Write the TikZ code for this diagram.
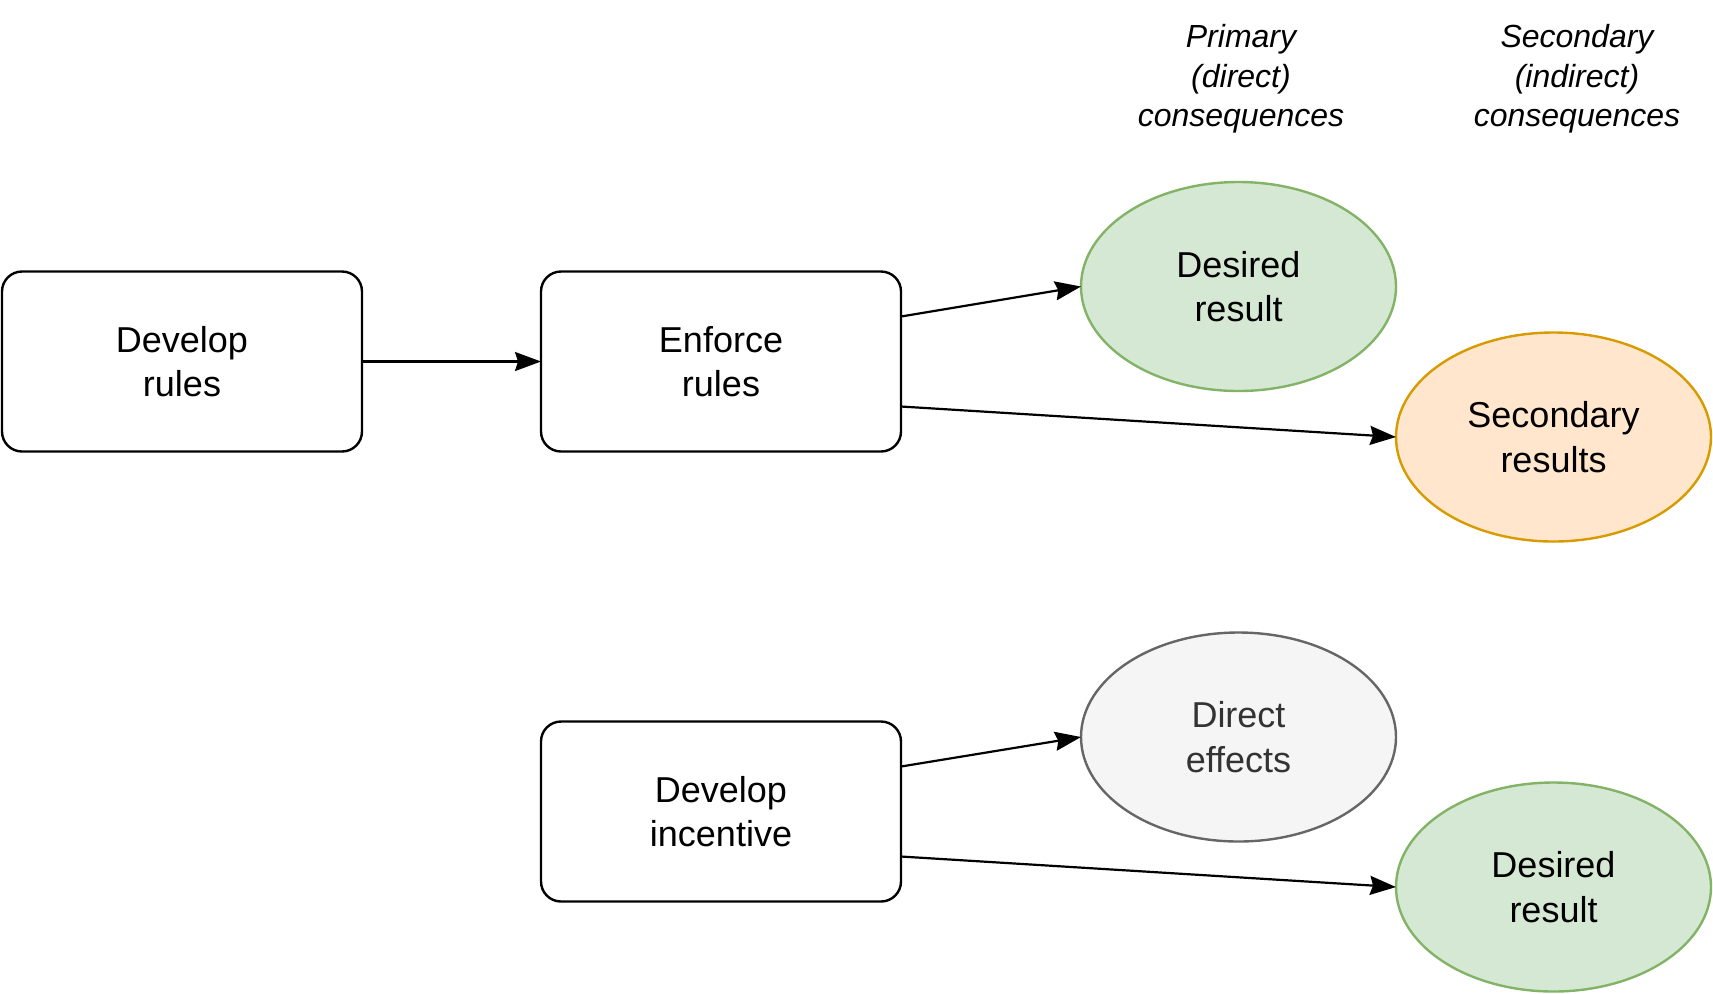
\documentclass[tikz,border=0pt]{standalone}
\usepackage{fontspec}
\setmainfont{Liberation Sans}
\usepackage{tikz}
\usetikzlibrary{shapes.geometric, arrows.meta, calc, positioning}
\definecolor{goodfill}{HTML}{D5E8D4}
\definecolor{goodline}{HTML}{82B366}
\definecolor{sidefill}{HTML}{FFE6CC}
\definecolor{sideline}{HTML}{D79B00}
\definecolor{greyfill}{HTML}{F5F5F5}
\definecolor{greyline}{HTML}{666666}
\definecolor{greytext}{HTML}{333333}
\tikzstyle{block} = [rectangle, rounded corners=10pt, line width=1.2pt, draw=black, minimum width=180pt, minimum height=90pt, outer sep=0pt, align=center, font=\fontsize{18}{22.2}\selectfont]
\tikzstyle{result} = [ellipse, line width=1.2pt, minimum width=157.5pt, minimum height=104.5pt, inner sep=0pt, outer sep=0pt, align=center, font=\fontsize{18}{22.2}\selectfont]
\tikzstyle{goodres} = [result, draw=goodline, fill=goodfill]
\tikzstyle{sideres} = [result, draw=sideline, fill=sidefill]
\tikzstyle{plainres} = [result, draw=greyline, fill=greyfill, text=greytext]
\tikzstyle{header} = [align=center, font=\fontsize{16}{19.7}\selectfont\itshape]
\tikzstyle{arrow} = [line width=1.1pt, -{Stealth[length=13pt, width=9.5pt, inset=1.5pt]}]

\begin{document}
\begin{tikzpicture}[x=0.5pt, y=-0.5pt, node distance = 90pt]
	\useasboundingbox (0,0) rectangle (1713,993);
	% headers
	\node (primaryhd) [header] at (1241,79) {Primary\\(direct)\\consequences};
	\node (secondhd) [header] at (1577,79) {Secondary\\(indirect)\\consequences};
	% rules
	\node (devrules) [block] at (182,361.5) {Develop\\rules};
	\node (enforce) [block, right=89.5pt of devrules] {Enforce\\rules};
	\node (desired) [goodres, right=90pt of enforce, yshift=37.5pt] {Desired\\result};
	\node (secondary) [sideres, anchor=west] at ([yshift=-75.25pt]desired.east) {Secondary\\results};
	% incentive
	\node (incentive) [block, below=135pt of enforce] {Develop\\incentive};
	\node (direct) [plainres, right=90pt of incentive, yshift=37.25pt] {Direct\\effects};
	\node (desiredb) [goodres, anchor=west] at ([yshift=-75pt]direct.east) {Desired\\result};

	\draw [arrow] (devrules) -- (enforce);
	\draw [arrow] ([yshift=22.5pt]enforce.east) -- (desired.west);
	\draw [arrow] ([yshift=-22.5pt]enforce.east) -- (secondary.west);
	\draw [arrow] ([yshift=22.5pt]incentive.east) -- (direct.west);
	\draw [arrow] ([yshift=-22.5pt]incentive.east) -- (desiredb.west);
\end{tikzpicture}
\end{document}
